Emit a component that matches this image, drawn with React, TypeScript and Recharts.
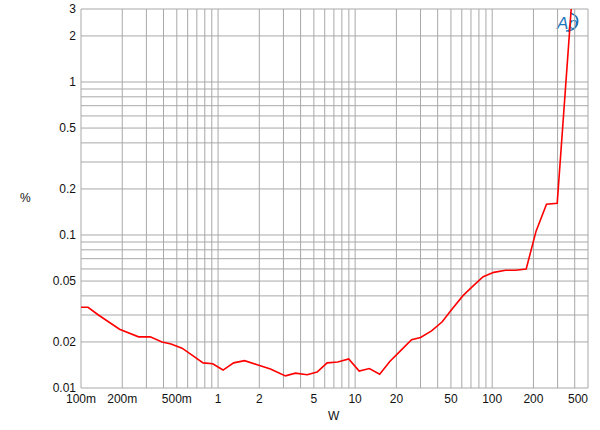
import { LineChart, Line, XAxis, YAxis, CartesianGrid } from 'recharts'

// THD+N (%) vs output power (W)
const watts = [
  0.1, 0.1125, 0.134, 0.191, 0.263, 0.32, 0.39, 0.454, 0.546, 0.646, 0.777, 0.914,
  1.087, 1.3, 1.56, 1.93, 2.41, 3.1, 3.67, 4.47, 5.28, 6.25, 7.47, 8.98, 10.7,
  12.7, 15.1, 17.9, 21.4, 25.8, 30, 36.1, 43.2, 51, 61, 71, 85.9, 102.8, 125,
  148, 177, 209, 249, 298, 377,
]
const thdPct = [
  0.0337, 0.0337, 0.030, 0.0242, 0.0216, 0.0216, 0.020, 0.0194, 0.0182, 0.0164, 0.0146, 0.0144,
  0.0131, 0.0146, 0.0151, 0.0142, 0.0133, 0.012, 0.0125, 0.0122, 0.0127, 0.0146, 0.0148, 0.0155, 0.0129,
  0.0134, 0.0123, 0.0149, 0.0175, 0.0207, 0.0214, 0.0236, 0.0271, 0.0328, 0.040, 0.0456, 0.0534, 0.057, 0.0588,
  0.0588, 0.060, 0.106, 0.159, 0.161, 3.0,
]

const xGrid = [
  0.1, 0.2, 0.3, 0.4, 0.5, 0.6, 0.7, 0.8, 0.9,
  1, 2, 3, 4, 5, 6, 7, 8, 9,
  10, 20, 30, 40, 50, 60, 70, 80, 90,
  100, 200, 300, 400, 500,
]
const xLabels: Record<number, string> = {
  0.1: '100m', 0.2: '200m', 0.5: '500m', 1: '1', 2: '2', 5: '5',
  10: '10', 20: '20', 50: '50', 100: '100', 200: '200', 500: '500',
}
const yGrid = [
  0.01, 0.02, 0.03, 0.04, 0.05, 0.06, 0.07, 0.08, 0.09,
  0.1, 0.2, 0.3, 0.4, 0.5, 0.6, 0.7, 0.8, 0.9,
  1, 2, 3,
]
const yLabels: Record<number, string> = {
  0.01: '0.01', 0.02: '0.02', 0.05: '0.05', 0.1: '0.1', 0.2: '0.2',
  0.5: '0.5', 1: '1', 2: '2', 3: '3',
}

const data = watts.map((w, i) => ({ w, thd: thdPct[i] }))

const FONT = '"Liberation Sans", Arial, sans-serif'

function XTick({ x, y, payload }: any) {
  const label = xLabels[payload.value]
  if (!label) return null
  const anchor = payload.value === 500 ? 'end' : 'middle'
  return (
    <text x={x} y={y + 13} textAnchor={anchor} fontSize={12} fontFamily={FONT} fill="#111">
      {label}
    </text>
  )
}

function YTick({ x, y, payload }: any) {
  const label = yLabels[payload.value]
  if (!label) return null
  return (
    <text x={x - 3} y={y + 4} textAnchor="end" fontSize={12} fontFamily={FONT} fill="#111">
      {label}
    </text>
  )
}

export default function App() {
  return (
    <div style={{ position: 'absolute', left: 0, top: 0, width: 600, height: 430, background: '#fff' }}>
      {/* AP logo sits under the trace */}
      <svg style={{ position: 'absolute', left: 553, top: 10 }} width={32} height={26}>
        <path d="M 17 3 Q 27 6 24 15 Q 21 21 13 21" fill="none" stroke="#1b75bc" strokeWidth={1.6} />
        <text x={4} y={19} fontSize={17} fontStyle="italic" fontFamily={FONT} fill="#1b75bc">Ap</text>
      </svg>
      <div style={{ position: 'absolute', left: 0, top: 0 }}>
        <LineChart width={600} height={430} data={data} margin={{ top: 9, right: 12, bottom: 12, left: 0 }}>
          <CartesianGrid stroke="#a8a8a8" strokeWidth={1} />
          <XAxis
            dataKey="w"
            type="number"
            scale="log"
            domain={[0.1, 500]}
            allowDataOverflow
            ticks={xGrid}
            interval={0}
            tick={<XTick />}
            tickLine={false}
            axisLine={false}
            tickSize={0}
            height={30}
          />
          <YAxis
            type="number"
            scale="log"
            domain={[0.01, 3]}
            allowDataOverflow
            ticks={yGrid}
            interval={0}
            tick={<YTick />}
            tickLine={false}
            axisLine={false}
            tickSize={0}
            width={81}
          />
          <Line
            dataKey="thd"
            stroke="#ff0000"
            strokeWidth={1.6}
            dot={false}
            isAnimationActive={false}
          />
        </LineChart>
      </div>
      <div style={{ position: 'absolute', left: 20, top: 191, fontSize: 12, fontFamily: FONT, color: '#111' }}>%</div>
      <div style={{ position: 'absolute', left: 328, top: 409, fontSize: 12, fontFamily: FONT, color: '#111' }}>W</div>
    </div>
  )
}
